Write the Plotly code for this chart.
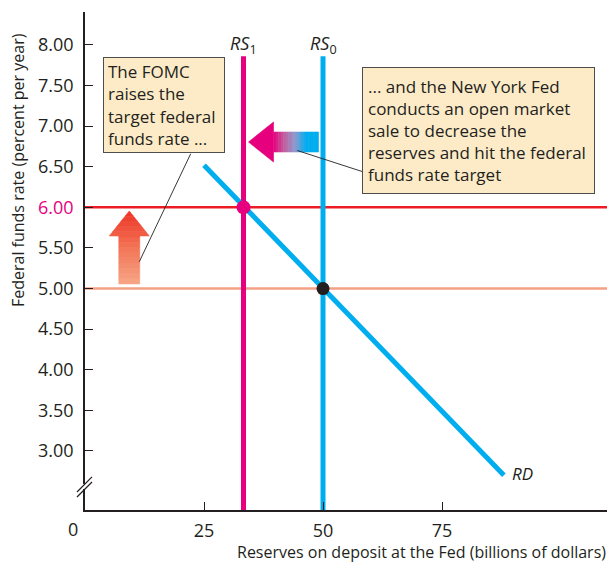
"""Federal funds rate: FOMC raises target, NY Fed open market sale shifts RS left."""
import plotly.graph_objects as go

# ---- data ----
rd_x = [25, 88]
rd_y = [6.52, 2.70]
rs1_x = 33.3
rs0_x = 50
rs_y = [2.27, 7.86]
old_rate = 5.0
new_rate = 6.0
eq_old = (50, 5.0)
eq_new = (33.3, 6.0)

x_ticks = [25, 50, 75]
x_ticklabels = ["25", "50", "75"]
y_ticks = [3.0, 3.5, 4.0, 4.5, 5.0, 5.5, 6.0, 6.5, 7.0, 7.5, 8.0]
y_ticklabels = ["3.00", "3.50", "4.00", "4.50", "5.00", "5.50",
                "<span style='color:#E6007E'>6.00</span>",
                "6.50", "7.00", "7.50", "8.00"]

X_RANGE = [0, 110.5]
Y_RANGE = [2.273, 8.406]

MAGENTA = "#E6007E"
CYAN = "#00AEEF"
RED = "#ED1C24"
SALMON = "#F4A085"
INK = "#231F20"
BOX = "#FDEBC8"
FONT = "'Open Sans', 'Noto Sans', sans-serif"

fig = go.Figure()

# horizontal rate lines
fig.add_trace(go.Scatter(x=X_RANGE, y=[old_rate, old_rate], mode="lines",
                         line=dict(color=SALMON, width=2.5), hoverinfo="skip"))
fig.add_trace(go.Scatter(x=X_RANGE, y=[new_rate, new_rate], mode="lines",
                         line=dict(color=RED, width=2.5), hoverinfo="skip"))
# supply curves
fig.add_trace(go.Scatter(x=[rs0_x, rs0_x], y=rs_y, mode="lines",
                         line=dict(color=CYAN, width=5), hoverinfo="skip"))
fig.add_trace(go.Scatter(x=[rs1_x, rs1_x], y=rs_y, mode="lines",
                         line=dict(color=MAGENTA, width=5), hoverinfo="skip"))
# demand curve
fig.add_trace(go.Scatter(x=rd_x, y=rd_y, mode="lines",
                         line=dict(color=CYAN, width=5), hoverinfo="skip"))
# equilibrium points
fig.add_trace(go.Scatter(x=[eq_old[0]], y=[eq_old[1]], mode="markers",
                         marker=dict(color=INK, size=13), hoverinfo="skip"))
fig.add_trace(go.Scatter(x=[eq_new[0]], y=[eq_new[1]], mode="markers",
                         marker=dict(color=MAGENTA, size=14), hoverinfo="skip"))


def mix(stops, t):
    # piecewise linear colour between evenly spaced hex stops
    t = max(0.0, min(1.0, t))
    seg = min(len(stops) - 2, int(t * (len(stops) - 1)))
    u = t * (len(stops) - 1) - seg
    a = [int(stops[seg][i:i + 2], 16) for i in (1, 3, 5)]
    b = [int(stops[seg + 1][i:i + 2], 16) for i in (1, 3, 5)]
    return "rgb(%d,%d,%d)" % tuple(round(a[k] + (b[k] - a[k]) * u) for k in range(3))


shapes = []


def add_poly(pts, color):
    path = "M " + " L ".join(f"{x},{y}" for x, y in pts) + " Z"
    shapes.append(dict(type="path", path=path, xref="x", yref="y",
                       fillcolor=color, line=dict(color=color, width=0.6), layer="above"))


# up arrow (gradient salmon -> red), sliced along y
UP_STOPS = ["#F7A585", "#F27456", "#EE3325"]
ua_cx, ua_tip, ua_base, ua_bot = 9.3, 5.956, 5.648, 5.057
ua_head_hw, ua_shaft_hw = 4.2, 2.2


def ua_hw(y):
    if y <= ua_base + 1e-9:
        return ua_shaft_hw
    return ua_head_hw * (ua_tip - y) / (ua_tip - ua_base)


n = 14
for i in range(n):
    y0 = ua_bot + (ua_tip - ua_bot) * i / n
    y1 = ua_bot + (ua_tip - ua_bot) * (i + 1) / n
    col = mix(UP_STOPS, (i + 0.5) / n)
    if y0 < ua_base < y1:
        add_poly([(ua_cx - ua_shaft_hw, y0), (ua_cx + ua_shaft_hw, y0),
                  (ua_cx + ua_shaft_hw, ua_base), (ua_cx - ua_shaft_hw, ua_base)], col)
        add_poly([(ua_cx - ua_head_hw, ua_base), (ua_cx + ua_head_hw, ua_base),
                  (ua_cx + ua_hw(y1), y1), (ua_cx - ua_hw(y1), y1)], col)
    else:
        add_poly([(ua_cx - ua_hw(y0), y0), (ua_cx + ua_hw(y0), y0),
                  (ua_cx + ua_hw(y1), y1), (ua_cx - ua_hw(y1), y1)], col)

# left arrow (gradient magenta -> cyan)
LEFT_STOPS = [MAGENTA, "#C2609F", "#8E9BCF", CYAN]
la_tip, la_base, la_end = 34.35, 39.6, 49.05
la_cy, la_head_hh, la_shaft_hh = 6.805, 0.247, 0.123
add_poly([(la_tip, la_cy), (la_base, la_cy + la_head_hh), (la_base, la_cy - la_head_hh)], MAGENTA)
m = 18
for i in range(m):
    x0 = la_base + (la_end - la_base) * i / m
    x1 = la_base + (la_end - la_base) * (i + 1) / m
    t = ((x0 + x1) / 2 - la_base) / (46.5 - la_base)
    add_poly([(x0, la_cy - la_shaft_hh), (x1, la_cy - la_shaft_hh),
              (x1, la_cy + la_shaft_hh), (x0, la_cy + la_shaft_hh)], mix(LEFT_STOPS, t))

# leader lines
shapes.append(dict(type="line", xref="x", yref="y", x0=22.2, y0=6.66, x1=11.4, y1=5.33,
                   line=dict(color=INK, width=0.9), layer="above"))
shapes.append(dict(type="line", xref="x", yref="y", x0=44.6, y0=6.70, x1=58.3, y1=6.44,
                   line=dict(color=INK, width=0.9), layer="above"))

# axis break on y axis
shapes.append(dict(type="rect", xref="paper", yref="y", x0=-0.006, x1=0.006,
                   y0=2.532, y1=2.594, fillcolor="white", line=dict(width=0), layer="above"))
for dy in (0.0, 0.062):
    shapes.append(dict(type="line", xref="paper", yref="y", x0=-0.0152, x1=0.0133,
                       y0=2.433 + dy, y1=2.618 + dy,
                       line=dict(color=INK, width=1.2), layer="above"))

annotations = [
    dict(x=16.6, y=7.261, xref="x", yref="y", showarrow=False,
         text="The FOMC<br>raises the<br>target federal<br>funds rate ...",
         align="left", width=112, height=86, borderpad=4, borderwidth=1,
         bordercolor="#4D4D4D", bgcolor=BOX, font=dict(size=17, color=INK)),
    dict(x=82.67, y=6.947, xref="x", yref="y", showarrow=False,
         text="... and the New York Fed<br>conducts an open market<br>sale to decrease the"
              "<br>reserves and hit the federal<br>funds rate target",
         align="left", width=221, height=115, borderpad=5, borderwidth=1,
         bordercolor="#4D4D4D", bgcolor=BOX, font=dict(size=17, color=INK)),
    dict(x=rs1_x, y=rs_y[1], xref="x", yref="y", yanchor="bottom", showarrow=False,
         text="<i>RS</i><sub>1</sub>", font=dict(size=18, color=INK), yshift=-4),
    dict(x=rs0_x, y=rs_y[1], xref="x", yref="y", yanchor="bottom", showarrow=False,
         text="<i>RS</i><sub>0</sub>", font=dict(size=18, color=INK), yshift=-4),
    dict(x=rd_x[1], y=rd_y[1], xref="x", yref="y", xanchor="left", showarrow=False,
         text="<i>RD</i>", font=dict(size=17, color=INK), xshift=6, yshift=2),
    dict(x=0, y=0, xref="x", yref="paper", yanchor="top", showarrow=False,
         text="0", font=dict(size=18, color=INK), xshift=-12, yshift=-5),
    dict(x=1.0, y=0, xref="paper", yref="paper", xanchor="right", yanchor="top",
         showarrow=False, text="Reserves on deposit at the Fed (billions of dollars)",
         font=dict(size=16, color=INK), yshift=-29, xshift=-3),
    dict(x=-0.127, y=0.683, xref="paper", yref="paper", xanchor="center", yanchor="middle",
         textangle=-90, showarrow=False,
         text="Federal funds rate (percent per year)", font=dict(size=16, color=INK)),
]

# the page body adds an 8px margin, so the figure is 8px smaller than the window
fig.update_layout(
    width=607, height=556,
    margin=dict(l=77, r=4, t=4, b=54),
    paper_bgcolor="white", plot_bgcolor="white",
    showlegend=False,
    font=dict(family=FONT, size=17, color=INK),
    shapes=shapes,
    annotations=annotations,
    xaxis=dict(range=X_RANGE, showgrid=False, zeroline=False, showline=True,
               linecolor=INK, linewidth=1.5, ticks="inside", ticklen=8, tickwidth=1.2,
               tickcolor=INK, tickvals=x_ticks, ticktext=x_ticklabels,
               tickfont=dict(size=18), ticklabelstandoff=4),
    yaxis=dict(range=Y_RANGE, showgrid=False, zeroline=False, showline=True,
               linecolor=INK, linewidth=1.5, ticks="inside", ticklen=8, tickwidth=1.2,
               tickcolor=INK, tickvals=y_ticks, ticktext=y_ticklabels,
               tickfont=dict(size=18), ticklabelstandoff=6),
)

fig.write_html("out.html")
